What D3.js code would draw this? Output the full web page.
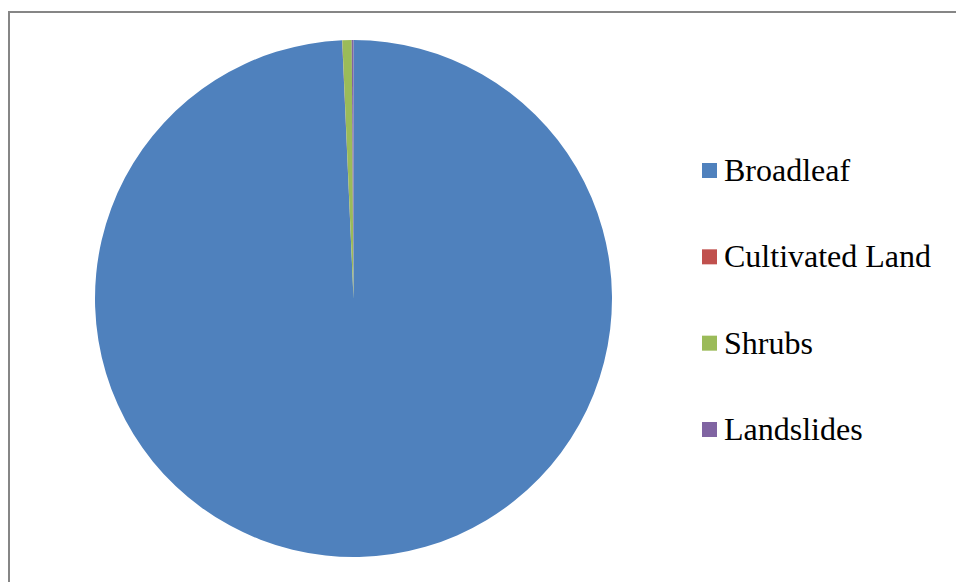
<!DOCTYPE html>
<html>
<head>
<meta charset="utf-8">
<script src="https://cdn.jsdelivr.net/npm/d3@7"></script>
<style>
  html, body { margin: 0; padding: 0; background: #fff; overflow: hidden; }
  .lgtext { font-family: "Liberation Serif", "Times New Roman", Tinos, "DejaVu Serif"; font-size: 32px; fill: #000; }
</style>
</head>
<body>
<svg id="chart" width="956" height="582"></svg>
<script>
const categories = ["Broadleaf", "Cultivated Land", "Shrubs", "Landslides"];
const values = [99.30, 0.01, 0.58, 0.11];
const colors = ["#4F81BD", "#C0504D", "#9BBB59", "#8064A2"];

const svg = d3.select("#chart");

// chart area border (extends past the right/bottom edges)
svg.append("rect")
  .attr("x", 9).attr("y", 12)
  .attr("width", 1000).attr("height", 1000)
  .attr("fill", "#fff")
  .attr("stroke", "#868686")
  .attr("stroke-width", 2);

const cx = 353.5, cy = 298.5, r = 258.5;

const data = categories.map((c, i) => ({ name: c, value: values[i], color: colors[i] }));

const pie = d3.pie().sort(null).value(d => d.value);
const arc = d3.arc().innerRadius(0).outerRadius(r);

svg.append("g")
  .attr("transform", `translate(${cx},${cy})`)
  .selectAll("path")
  .data(pie(data))
  .join("path")
  .attr("d", arc)
  .attr("fill", d => d.data.color);

// legend
const legendY = d3.scalePoint().domain(categories).range([171, 430]);
const lg = svg.append("g");
const item = lg.selectAll("g").data(data).join("g")
  .attr("transform", d => `translate(702,${legendY(d.name)})`);
item.append("rect")
  .attr("x", 0).attr("y", -8)
  .attr("width", 15).attr("height", 15)
  .attr("fill", d => d.color);
item.append("text")
  .attr("class", "lgtext")
  .attr("x", 22).attr("y", 10)
  .text(d => d.name);
</script>
</body>
</html>
